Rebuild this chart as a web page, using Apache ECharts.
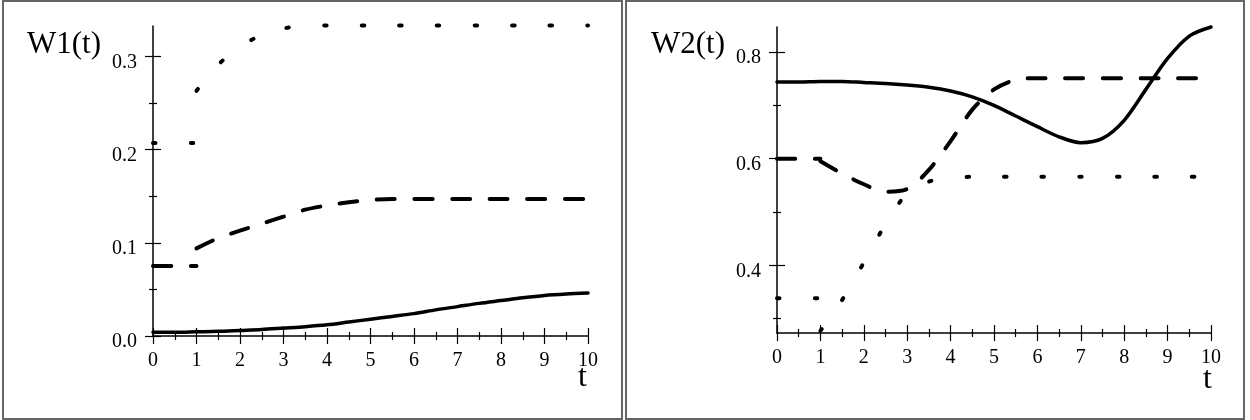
<!DOCTYPE html>
<html>
<head>
<meta charset="utf-8">
<script src="https://cdn.jsdelivr.net/npm/echarts@6/dist/echarts.min.js"></script>
<style>
  html, body { margin: 0; padding: 0; background: #fff; }
  #chart { width: 1250px; height: 420px; }
</style>
</head>
<body>
<div id="chart"></div>
<script>
// time samples
const tFull = [0, 0.5, 1, 1.5, 2, 2.5, 3, 3.5, 4, 4.5, 5, 5.5, 6, 6.5, 7, 7.5, 8, 8.5, 9, 9.5, 10];
const tEarly = [0, 0.5, 1];
const tLate = [1, 1.5, 2, 2.5, 3, 3.5, 4, 4.5, 5, 5.5, 6, 6.5, 7, 7.5, 8, 8.5, 9, 9.5, 10];

// W1(t)
const w1Solid = [0.004, 0.004, 0.0045, 0.005, 0.006, 0.007, 0.0085, 0.010, 0.012, 0.015, 0.018,
  0.021, 0.024, 0.028, 0.0315, 0.035, 0.038, 0.041, 0.0435, 0.045, 0.046];
const w1DashEarly = [0.075, 0.075, 0.075];
const w1DashLate = [0.094, 0.105, 0.113, 0.1205, 0.128, 0.1355, 0.140, 0.1435, 0.146, 0.147,
  0.147, 0.147, 0.147, 0.147, 0.147, 0.147, 0.147, 0.147, 0.147];
const w1DotEarly = [0.207, 0.207, 0.207];
const w1DotLate = [0.263, 0.291, 0.310, 0.323, 0.330, 0.332, 0.333, 0.333, 0.333, 0.333,
  0.333, 0.333, 0.333, 0.333, 0.333, 0.333, 0.333, 0.333, 0.333];

// W2(t)
const w2Solid = [0.744, 0.744, 0.745, 0.745, 0.743, 0.741, 0.738, 0.734, 0.727, 0.716, 0.700,
  0.680, 0.660, 0.641, 0.630, 0.638, 0.672, 0.730, 0.788, 0.830, 0.847];
const w2DashEarly = [0.600, 0.600, 0.600];
const w2DashLate = [0.595, 0.572, 0.552, 0.538, 0.543, 0.579, 0.633, 0.692, 0.730, 0.748,
  0.751, 0.751, 0.751, 0.751, 0.751, 0.751, 0.751, 0.751, 0.751];
const w2DotEarly = [0.338, 0.338, 0.338];
const w2DotLate = [0.277, 0.335, 0.405, 0.477, 0.535, 0.557, 0.564, 0.566, 0.566, 0.566,
  0.566, 0.566, 0.566, 0.566, 0.566, 0.566, 0.566, 0.566, 0.566];

// ticks
const xMajor = [0, 1, 2, 3, 4, 5, 6, 7, 8, 9, 10];
const xMinor = [0.5, 1.5, 2.5, 3.5, 4.5, 5.5, 6.5, 7.5, 8.5, 9.5];
const w1Major = [0, 0.1, 0.2, 0.3];
const w1Minor = [0.05, 0.15, 0.25];
const w2Major = [0.4, 0.6, 0.8];
const w2Minor = [0.3, 0.5, 0.7];

const serif = 'Liberation Serif';
const ink = '#000';

// one main axis + 3 helper axes so ticks cross the axis line
function axisSet(dim, gridIndex, min, max, major, minor, fmt) {
  const position = dim === 'x' ? 'bottom' : 'left';
  const base = {
    type: 'value', gridIndex, min, max, position,
    splitLine: { show: false },
    axisLine: { show: false, onZero: false },
    axisLabel: { show: false }
  };
  const tick = (vals, len, inside) => ({
    show: true, customValues: vals, length: len, inside,
    lineStyle: { color: ink, width: 1.2 }
  });
  const label = dim === 'x'
    ? { margin: 15 }
    : { margin: 16, verticalAlign: 'top', lineHeight: 12 };
  return [
    Object.assign({}, base, {
      axisLine: { show: true, onZero: false, lineStyle: { color: ink, width: 1.5 } },
      axisTick: tick(major, 8, false),
      axisLabel: Object.assign({
        show: true, customValues: major, formatter: fmt,
        fontFamily: serif, fontSize: 20, color: ink
      }, label)
    }),
    Object.assign({}, base, { axisTick: tick(major, 8, true) }),
    Object.assign({}, base, { axisTick: tick(minor, 4, false) }),
    Object.assign({}, base, { axisTick: tick(minor, 4, true) })
  ];
}

const xFmt = v => String(Math.round(v));
const yFmt = v => v.toFixed(1);

const xAxes = axisSet('x', 0, 0, 10, xMajor, xMinor, xFmt)
  .concat(axisSet('x', 1, 0, 10, xMajor, xMinor, xFmt));
const yAxes = axisSet('y', 0, 0, 0.3325, w1Major, w1Minor, yFmt)
  .concat(axisSet('y', 1, 0.273, 0.847, w2Major, w2Minor, yFmt));

const pairs = (ts, vs) => ts.map((t, i) => [t, vs[i]]);

const solid = { type: 'solid', width: 3.5, color: ink, cap: 'round' };
const dashed = { type: [18, 19.6], width: 4, color: ink, cap: 'round' };
const dotted = { type: [2.5, 35.1], width: 4, color: ink, cap: 'round' };

function line(grid, data, style) {
  return {
    type: 'line',
    xAxisIndex: grid * 4,
    yAxisIndex: grid * 4,
    data,
    smooth: 0.3,
    symbol: 'none',
    clip: false,
    silent: true,
    lineStyle: style
  };
}

const titleText = { fontFamily: serif, fontWeight: 'normal', color: ink };

const option = {
  animation: false,
  backgroundColor: '#fff',
  title: [
    { text: 'W1(t)', left: 27, top: 29, padding: 0, textStyle: Object.assign({ fontSize: 31 }, titleText) },
    { text: 'W2(t)', left: 651, top: 29, padding: 0, textStyle: Object.assign({ fontSize: 31 }, titleText) },
    { text: 't', left: 578, top: 362, padding: 0, textStyle: Object.assign({ fontSize: 32 }, titleText) },
    { text: 't', left: 1203, top: 364, padding: 0, textStyle: Object.assign({ fontSize: 32 }, titleText) }
  ],
  graphic: [
    { type: 'rect', shape: { x: 3, y: 1, width: 619, height: 418 }, style: { fill: 'none', stroke: '#666', lineWidth: 2 } },
    { type: 'rect', shape: { x: 626, y: 1, width: 618, height: 418 }, style: { fill: 'none', stroke: '#666', lineWidth: 2 } }
  ],
  grid: [
    { left: 153, top: 26, width: 435, height: 310 },
    { left: 777, top: 27, width: 434, height: 306 }
  ],
  xAxis: xAxes,
  yAxis: yAxes,
  series: [
    line(0, pairs(tFull, w1Solid), solid),
    line(0, pairs(tEarly, w1DashEarly), dashed),
    line(0, pairs(tLate, w1DashLate), dashed),
    line(0, pairs(tEarly, w1DotEarly), dotted),
    line(0, pairs(tLate, w1DotLate), dotted),
    line(1, pairs(tFull, w2Solid), solid),
    line(1, pairs(tEarly, w2DashEarly), dashed),
    line(1, pairs(tLate, w2DashLate), dashed),
    line(1, pairs(tEarly, w2DotEarly), dotted),
    line(1, pairs(tLate, w2DotLate), dotted)
  ]
};

const chart = echarts.init(document.getElementById('chart'));
chart.setOption(option);
</script>
</body>
</html>
